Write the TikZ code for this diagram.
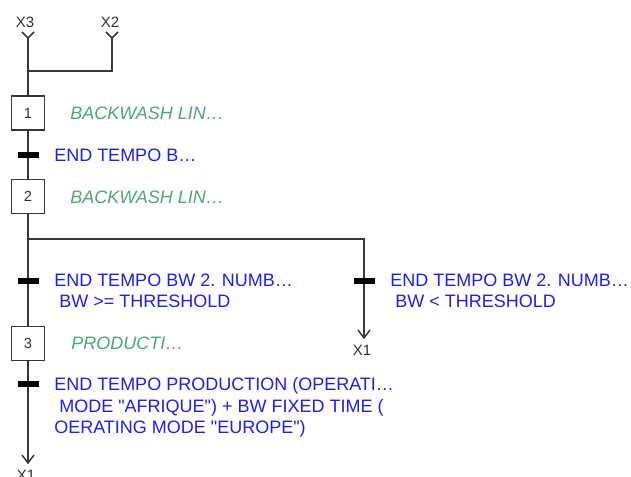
\documentclass[tikz,border=0pt]{standalone}
\usepackage{fontspec}
\setmainfont{Liberation Sans}[Ligatures=TeXReset]
\definecolor{condblue}{RGB}{30,30,245}
\definecolor{actgreen}{RGB}{72,170,115}
\definecolor{wirecol}{RGB}{55,55,55}
\definecolor{numcol}{RGB}{50,50,50}
\begin{document}
\begin{tikzpicture}[x=0.75pt,y=-0.75pt,
  wire/.style={draw=wirecol, line width=1.1pt},
  stepbox/.style={draw=wirecol, line width=1.1pt, fill=white,
    minimum width=24.75pt, minimum height=25.5pt, inner sep=0pt,
    font=\fontsize{11}{13}\selectfont, text=numcol},
  trbar/.style={fill=black, minimum width=15.75pt, minimum height=4.5pt, inner sep=0pt},
  cond/.style={anchor=west, inner sep=0pt, text=condblue, align=left,
    font=\fontsize{13.5}{16.1}\selectfont},
  act/.style={anchor=west, inner sep=0pt, text=actgreen,
    font=\fontsize{13.5}{16}\selectfont\itshape},
  ref/.style={inner sep=0pt, font=\fontsize{11.25}{13}\selectfont, text=numcol},
]
\useasboundingbox (0,0) rectangle (631,477);

% entry references
\node[ref] (x3) at (25,22) {X3};
\node[ref] (x2) at (110,22) {X2};
\coordinate (x3in) at (28,38);
\coordinate (x2in) at (112,38);
\coordinate (join) at (28,71);

% steps
\node[stepbox] (s1) at (28,113) {1};
\node[stepbox] (s2) at (28,196.5) {2};
\node[stepbox] (s3) at (28,343.5) {3};

% branch points and exits
\coordinate (div) at (28,239);
\coordinate (x1r) at (364,338);
\coordinate (x1l) at (28,463);

% links
\draw[wire] (x3in) -- (s1.north);
\draw[wire] (x2in) |- (join);
\draw[wire] (s1) -- (s2);
\draw[wire] (s2) -- (s3);
\draw[wire] (div) -| (x1r);
\draw[wire] (s3) -- (x1l);

% entry and exit marks
\draw[wire] (x3in) ++(-6,-6) -- (x3in) -- ++(6,-6);
\draw[wire] (x2in) ++(-6,-6) -- (x2in) -- ++(6,-6);
\draw[wire] (x1r) ++(-6,-8) -- (x1r) -- ++(6,-8);
\draw[wire] (x1l) ++(-6,-8) -- (x1l) -- ++(6,-8);

% transitions
\node[trbar] (t1) at (28,155) {};
\node[trbar] (t2) at (28,281) {};
\node[trbar] (t2b) at (364,281) {};
\node[trbar] (t3) at (28,384) {};

% actions and conditions
\node[act] (a1) at (70,113) {BACKWASH LIN…};
\node[cond] (c1) at (54,155) {END TEMPO B…};
\node[act] (a2) at (70,197) {BACKWASH LIN…};
\node[cond] (c2) at (54,291) {END TEMPO BW 2. NUMB…\\\hspace*{0.28em}BW >= THRESHOLD};
\node[cond] (c2b) at (390,291) {END TEMPO BW 2. NUMB…\\\hspace*{0.28em}BW < THRESHOLD};
\node[act] (a3) at (71,343) {PRODUCTI…};
\node[cond] (c3) at (54,407.5) {END TEMPO PRODUCTION (OPERATI…\\\hspace*{0.28em}MODE "AFRIQUE") + BW FIXED TIME (\\OERATING MODE "EUROPE")};

% exit references
\node[ref] (x1a) at (362,350) {X1};
\node[ref] (x1b) at (26,475) {X1};
\end{tikzpicture}
\end{document}
